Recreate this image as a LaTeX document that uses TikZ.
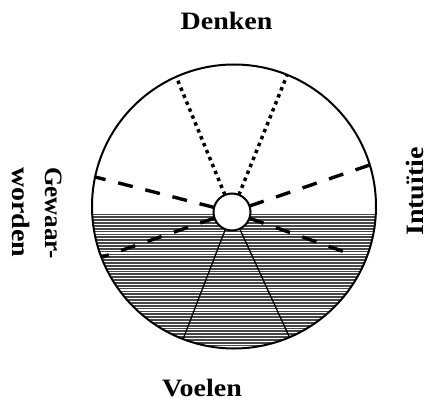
\documentclass[tikz,border=0pt]{standalone}
\usepackage{fontspec}
\setmainfont{Liberation Serif}
\usepackage{graphicx}
\begin{document}
\begin{tikzpicture}[x=1pt,y=-1pt,
  lbl/.style={font=\bfseries\fontsize{25}{30}\selectfont, inner sep=0pt, outer sep=0pt},
  dotln/.style={line width=3.5pt, dash pattern=on 3.5pt off 4pt},
  dashln/.style={line width=3.4pt, dash pattern=on 15pt off 13pt},
  thinln/.style={line width=1.3pt},
  stripe/.style={black!72, line width=1.75pt},
  ring/.style={circle, draw, line width=2pt, inner sep=0pt, outer sep=0pt}]
\useasboundingbox (0,0) rectangle (428,401);
% shaded lower part
\begin{scope}
  \clip (234,206.5) circle (142pt);
  \foreach \y in {214.5,217.35,...,352} \draw[stripe] (80,\y) -- (390,\y);
\end{scope}
\node[ring, minimum size=284pt] (wheel) at (234,206.5) {};
\node[ring, fill=white, minimum size=37pt] (hub) at (232,212) {};
\coordinate (lrend) at (353.3,255);
% dotted lines
\draw[dotln] (hub) -- (wheel.114.2);
\draw[dotln] (hub) -- (wheel.68.8);
% dashed lines
\draw[dashln] (hub) -- (wheel.168);
\draw[dashln] (hub) -- (wheel.17.6);
\draw[dashln] (hub) -- (wheel.201.4);
\draw[dashln] (hub) -- (lrend);
% solid lines
\draw[thinln] (hub) -- (wheel.249);
\draw[thinln] (hub) -- (wheel.293.4);
% labels
\node[lbl, anchor=base] (denken) at (226.5,29.3) {\scalebox{1.12}[1]{Denken}};
\node[lbl, anchor=base] (voelen) at (202,396.3) {\scalebox{1.12}[1]{Voelen}};
\node[lbl, anchor=base, rotate=90] (intuitie) at (423.5,191.5) {\scalebox{1.12}[1]{Intuïtie}};
\node[lbl, anchor=base west, rotate=-90] (gewaar) at (45,167) {Gewaar-};
\node[lbl, anchor=base west, rotate=-90] (worden) at (12.5,167) {\scalebox{1.12}[1]{worden}};
\end{tikzpicture}
\end{document}
